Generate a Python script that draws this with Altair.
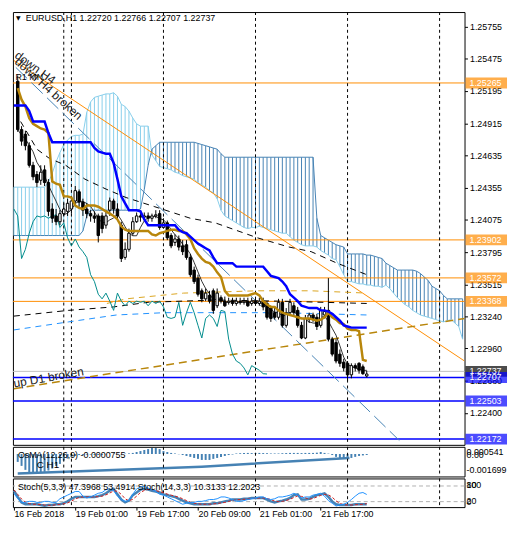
import altair as alt
import pandas as pd

# ---------------- price bars (EURUSD H1), bar index 1..92 ----------------
bar_index = list(range(1, 93))
opens = [1.2528, 1.2486, 1.2482, 1.2472, 1.2455, 1.2447, 1.2442, 1.2451, 1.2440, 1.2417,
         1.2411, 1.2406, 1.2413, 1.2415, 1.2417, 1.2424, 1.2432, 1.2423, 1.2417, 1.2413,
         1.2411, 1.2411, 1.2411, 1.2403, 1.2416, 1.2424, 1.2417, 1.2403, 1.2375, 1.2382,
         1.2396, 1.2406, 1.2411, 1.2410, 1.2411, 1.2409, 1.2411, 1.2413, 1.2401, 1.2405,
         1.2394, 1.2388, 1.2391, 1.2385, 1.2386, 1.2375, 1.2364, 1.2357, 1.2346, 1.2339,
         1.2342, 1.2346, 1.2333, 1.2340, 1.2337, 1.2336, 1.2337, 1.2335, 1.2337, 1.2336,
         1.2337, 1.2335, 1.2337, 1.2335, 1.2337, 1.2335, 1.2331, 1.2327, 1.2323, 1.2336,
         1.2316, 1.2327, 1.2333, 1.2329, 1.2316, 1.2305, 1.2321, 1.2325, 1.2323, 1.2316,
         1.2325, 1.2329, 1.2304, 1.2301, 1.2291, 1.2284, 1.2283, 1.2273, 1.2281, 1.2283,
         1.2280, 1.22720]
highs = [1.2533, 1.2489, 1.2485, 1.2475, 1.2458, 1.2450, 1.2455, 1.2455, 1.2443, 1.2422,
         1.2417, 1.2416, 1.2422, 1.2426, 1.2428, 1.2437, 1.2434, 1.2426, 1.2422, 1.2416,
         1.2415, 1.2413, 1.2414, 1.2416, 1.2427, 1.2426, 1.2422, 1.2406, 1.2388, 1.2400,
         1.2410, 1.2414, 1.2415, 1.2414, 1.2414, 1.2413, 1.2416, 1.2416, 1.2409, 1.2407,
         1.2396, 1.2395, 1.2394, 1.2390, 1.2390, 1.2378, 1.2367, 1.2360, 1.2348, 1.2348,
         1.2346, 1.2348, 1.2348, 1.2342, 1.2341, 1.2340, 1.2340, 1.2340, 1.2340, 1.2340,
         1.2340, 1.2340, 1.2340, 1.2340, 1.2340, 1.2337, 1.2333, 1.2331, 1.2339, 1.2339,
         1.2331, 1.2339, 1.2336, 1.2332, 1.2319, 1.2325, 1.2327, 1.2327, 1.2326, 1.2332,
         1.2332, 1.2357, 1.2306, 1.2304, 1.2295, 1.2287, 1.2285, 1.2283, 1.2283, 1.2284,
         1.2282, 1.22766]
lows = [1.2484, 1.2472, 1.2468, 1.2453, 1.2442, 1.2436, 1.2438, 1.2437, 1.2411, 1.2405,
        1.2403, 1.2403, 1.2411, 1.2411, 1.2413, 1.2422, 1.2419, 1.2411, 1.2409, 1.2406,
        1.2405, 1.2388, 1.2396, 1.2400, 1.2411, 1.2413, 1.2408, 1.2371, 1.2373, 1.2380,
        1.2394, 1.2405, 1.2406, 1.2407, 1.2406, 1.2406, 1.2409, 1.2399, 1.2400, 1.2390,
        1.2383, 1.2385, 1.2381, 1.2377, 1.2373, 1.2358, 1.2352, 1.2341, 1.2336, 1.2337,
        1.2335, 1.2326, 1.2331, 1.2335, 1.2332, 1.2334, 1.2333, 1.2333, 1.2334, 1.2334,
        1.2332, 1.2333, 1.2333, 1.2333, 1.2329, 1.2321, 1.2319, 1.2321, 1.2321, 1.2314,
        1.2314, 1.2325, 1.2325, 1.2314, 1.2304, 1.2304, 1.2318, 1.2319, 1.2312, 1.2314,
        1.2322, 1.2302, 1.2289, 1.2283, 1.2280, 1.2276, 1.2268, 1.2270, 1.2276, 1.2274,
        1.2273, 1.22707]
closes = [1.2486, 1.2476, 1.2472, 1.2455, 1.2445, 1.2440, 1.2449, 1.2440, 1.2415, 1.2409,
          1.2406, 1.2413, 1.2417, 1.2422, 1.2424, 1.2433, 1.2423, 1.2416, 1.2413, 1.2411,
          1.2409, 1.2394, 1.2400, 1.2411, 1.2424, 1.2417, 1.2411, 1.2374, 1.2382, 1.2396,
          1.2406, 1.2411, 1.2410, 1.2411, 1.2409, 1.2411, 1.2412, 1.2401, 1.2405, 1.2392,
          1.2385, 1.2391, 1.2384, 1.2380, 1.2375, 1.2360, 1.2354, 1.2343, 1.2339, 1.2344,
          1.2337, 1.2329, 1.2344, 1.2337, 1.2333, 1.2337, 1.2335, 1.2337, 1.2336, 1.2337,
          1.2333, 1.2337, 1.2335, 1.2337, 1.2332, 1.2323, 1.2322, 1.2323, 1.2336, 1.2316,
          1.2327, 1.2336, 1.2327, 1.2316, 1.2305, 1.2322, 1.2325, 1.2322, 1.2315, 1.2329,
          1.2328, 1.2304, 1.2291, 1.2285, 1.2283, 1.2279, 1.2273, 1.2281, 1.2279, 1.2277,
          1.2274, 1.22737]

# ---------------- Ichimoku ----------------
kijun_index = list(range(0, 93))
kijun = [1.2507, 1.2507, 1.2507, 1.2507, 1.2502, 1.2493, 1.2493, 1.2493, 1.2493, 1.2483,
         1.2475, 1.2475, 1.2475, 1.2475, 1.2475, 1.2475, 1.2475, 1.2475, 1.2475, 1.2475,
         1.2475, 1.2470, 1.2467, 1.2466, 1.2465, 1.2465, 1.2457, 1.2443, 1.2428, 1.2422,
         1.2416, 1.2416, 1.2416, 1.2415, 1.2408, 1.2403, 1.2403, 1.2403, 1.2403, 1.2403,
         1.2403, 1.2403, 1.2403, 1.2399, 1.2397, 1.2396, 1.2393, 1.2390, 1.2387, 1.2385,
         1.2383, 1.2381, 1.2375, 1.2370, 1.2370, 1.2370, 1.2370, 1.2370, 1.2367, 1.2367,
         1.2367, 1.2367, 1.2367, 1.2367, 1.2367, 1.2367, 1.2363, 1.2359, 1.2358, 1.2357,
         1.2354, 1.2350, 1.2343, 1.2340, 1.2337, 1.2333, 1.2332, 1.2331, 1.2331, 1.2331,
         1.2329, 1.2329, 1.2328, 1.2326, 1.2323, 1.2320, 1.2316, 1.2315, 1.2314, 1.2314,
         1.2314, 1.2314, 1.2314]
tenkan_index = list(range(1, 93))
tenkan = [1.2522, 1.2512, 1.2506, 1.2496, 1.2491, 1.2489, 1.2487, 1.2486, 1.2483, 1.2441,
          1.2439, 1.2438, 1.2428, 1.2428, 1.2427, 1.2420, 1.2418, 1.2417, 1.2420, 1.2420,
          1.2420, 1.2419, 1.2417, 1.2415, 1.2413, 1.2411, 1.2408, 1.2402, 1.2399, 1.2398,
          1.2398, 1.2398, 1.2398, 1.2398, 1.2398, 1.2395, 1.2394, 1.2396, 1.2397, 1.2398,
          1.2399, 1.2399, 1.2398, 1.2398, 1.2395, 1.2391, 1.2383, 1.2378, 1.2374, 1.2371,
          1.2370, 1.2367, 1.2362, 1.2358, 1.2346, 1.2342, 1.2342, 1.2342, 1.2342, 1.2342,
          1.2342, 1.2343, 1.2344, 1.2342, 1.2337, 1.2334, 1.2332, 1.2332, 1.2329, 1.2327,
          1.2326, 1.2325, 1.2324, 1.2323, 1.2322, 1.2322, 1.2322, 1.2321, 1.2320, 1.2321,
          1.2323, 1.2327, 1.2323, 1.2321, 1.2318, 1.2317, 1.2313, 1.2312, 1.2312, 1.2311,
          1.2286, 1.2285]
cloud_index = list(range(0, 118))
span_a = [1.2436, 1.2436, 1.2436, 1.2436, 1.2436, 1.2436, 1.2436, 1.2436, 1.2436, 1.2440,
          1.2448, 1.2458, 1.2466, 1.2473, 1.2477, 1.2480, 1.2481, 1.2481, 1.2482, 1.2501,
          1.2510, 1.2514, 1.2515, 1.2516, 1.2517, 1.2517, 1.2518, 1.2515, 1.2508, 1.2506,
          1.2502, 1.2496, 1.2491, 1.2489, 1.2489, 1.2489, 1.2464, 1.2459, 1.2454, 1.2453,
          1.2452, 1.2451, 1.2449, 1.2448, 1.2446, 1.2445, 1.2444, 1.2443, 1.2440, 1.2438,
          1.2436, 1.2433, 1.2431, 1.2426, 1.2416, 1.2411, 1.2409, 1.2407, 1.2405, 1.2403,
          1.2401, 1.2400, 1.2401, 1.2401, 1.2402, 1.2401, 1.2400, 1.2399, 1.2398, 1.2397,
          1.2396, 1.2396, 1.2393, 1.2390, 1.2388, 1.2386, 1.2385, 1.2385, 1.2385, 1.2384,
          1.2381, 1.2379, 1.2377, 1.2374, 1.2373, 1.2367, 1.2360, 1.2354, 1.2354, 1.2353,
          1.2352, 1.2352, 1.2351, 1.2351, 1.2350, 1.2350, 1.2349, 1.2351, 1.2348, 1.2344,
          1.2340, 1.2337, 1.2334, 1.2332, 1.2329, 1.2327, 1.2325, 1.2324, 1.2323, 1.2322,
          1.2321, 1.2320, 1.2319, 1.2320, 1.2321, 1.2318, 1.2315, 1.2304]
span_b = [1.2394, 1.2394, 1.2394, 1.2394, 1.2394, 1.2394, 1.2394, 1.2394, 1.2394, 1.2394,
          1.2394, 1.2394, 1.2394, 1.2394, 1.2394, 1.2394, 1.2394, 1.2394, 1.2398, 1.2411,
          1.2416, 1.2416, 1.2416, 1.2416, 1.2416, 1.2416, 1.2416, 1.2416, 1.2416, 1.2416,
          1.2416, 1.2416, 1.2416, 1.2417, 1.2434, 1.2455, 1.2469, 1.2472, 1.2475, 1.2475,
          1.2475, 1.2475, 1.2475, 1.2475, 1.2475, 1.2475, 1.2475, 1.2475, 1.2474, 1.2473,
          1.2472, 1.2471, 1.2470, 1.2469, 1.2465, 1.2462, 1.2462, 1.2462, 1.2462, 1.2462,
          1.2462, 1.2462, 1.2462, 1.2462, 1.2462, 1.2462, 1.2462, 1.2462, 1.2462, 1.2462,
          1.2462, 1.2462, 1.2462, 1.2462, 1.2462, 1.2462, 1.2462, 1.2462, 1.2462, 1.2409,
          1.2394, 1.2392, 1.2390, 1.2388, 1.2386, 1.2385, 1.2384, 1.2378, 1.2378, 1.2378,
          1.2378, 1.2378, 1.2377, 1.2377, 1.2376, 1.2375, 1.2374, 1.2370, 1.2368, 1.2366,
          1.2364, 1.2364, 1.2364, 1.2364, 1.2364, 1.2363, 1.2361, 1.2358, 1.2355, 1.2350,
          1.2348, 1.2346, 1.2342, 1.2339, 1.2339, 1.2339, 1.2339, 1.2339]

# ---------------- drawn objects / other studies (bar index, price) ----------------
down_h4_idx, down_h4_px = [0, 117.5], [1.2546, 1.2285]
up_d1_idx, up_d1_px = [0, 117.5], [1.2261, 1.2322]
channel_idx, channel_px = [0.5, 100.5], [1.2540, 1.2216]
ma_slow_idx = [1.75, 4.25, 6, 9.25, 13.5, 18.5, 24.25, 29.25, 36.75, 46, 52.5, 63.5, 71.75, 77.5, 84.25, 92]
ma_slow_px = [1.2493, 1.2479, 1.2469, 1.2461, 1.2455, 1.2443, 1.2434, 1.2427, 1.2419, 1.2409,
              1.2405, 1.2392, 1.2384, 1.2380, 1.2370, 1.2360]
ma_flat_idx = [0, 14.25, 26, 35, 52.5, 69.25, 92]
ma_flat_px = [1.2324, 1.2329, 1.2332, 1.2336, 1.2338, 1.2337, 1.2335]
ma_blue_idx = [0, 14.25, 26.75, 39.25, 52.5, 69.25, 92]
ma_blue_px = [1.2312, 1.2319, 1.2325, 1.2327, 1.2327, 1.2327, 1.2325]
ma_gold_idx = [24.25, 29.25, 44.25, 63.5, 77.5, 92]
ma_gold_px = [1.2335, 1.2339, 1.2344, 1.2346, 1.2346, 1.2344]

resist_levels = [1.25265, 1.23902, 1.23572, 1.23368]
support_levels = [1.22707, 1.22503, 1.22172]
bid_level = 1.2276
bid_label = 1.22737
price_ticks = [1.25755, 1.25475, 1.25195, 1.24915, 1.24635, 1.24355, 1.24075, 1.23795,
               1.23515, 1.23240, 1.22960, 1.22680, 1.22400, 1.22120]
separators = [13, 15, 39, 63, 87, 111]
time_ticks = [0, 16, 32, 48, 64, 80]
time_labels = ["16 Feb 2018", "19 Feb 01:00", "19 Feb 17:00", "20 Feb 09:00", "21 Feb 01:00", "21 Feb 17:00"]

# ---------------- OsMA(12,26,9), bars 1..92 ----------------
osma = [-0.0006, -0.0009, -0.0012, -0.0014, -0.0015, -0.0015, -0.0014, -0.00135, -0.00125, -0.0011,
        -0.0009, -0.00075, -0.0005, -0.00035, -0.00022, -0.00015, -0.00008, -0.00007, -0.00005, -0.00005,
        -0.00006, -0.00008, -0.00006, -0.00003, 0.00002, 0.00003, 0.00002, -0.00002, 0.00003, 0.00005,
        0.00008, 0.00015, 0.00022, 0.0003, 0.00037, 0.00045, 0.00045, 0.00037, 0.00022, 0.00015,
        0.00008, 0.00004, -0.00002, -0.00008, -0.00015, -0.00022, -0.0003, -0.00037, -0.00045, -0.00045,
        -0.00045, -0.00037, -0.0003, -0.00022, -0.00015, -0.00008, -0.00004, 0.00004, 0.00006, 0.00008,
        0.00008, 0.00007, 0.00008, 0.00008, 0.00007, 0.00006, 0.00004, 0.00004, 0.00004, 0.00006,
        0.00007, 0.00008, 0.00008, 0.00008, 0.00007, 0.00008, 0.00008, 0.00008, 0.0001, 0.00015,
        0.00008, 0.00003, -0.00008, -0.00022, -0.0003, -0.00037, -0.00037, -0.0003, -0.00022, -0.00015,
        -0.00011, -0.0000755]
osma_trend_idx = [1, 49, 87.5]
osma_trend_val = [-0.00148, -0.00096, -0.00030]

# ---------------- Stochastics, bars 0..92 ----------------
stoch_index = list(range(0, 93))
stoch5_main = [52, 31, 17, 17, 21, 21, 17, 17, 21, 21,
               17, 17, 31, 38, 45, 52, 59, 59, 41, 34,
               38, 45, 52, 55, 66, 69, 62, 41, 28, 21,
               24, 48, 69, 76, 79, 72, 66, 59, 48, 45,
               38, 31, 24, 17, 10, 14, 17, 17, 21, 21,
               24, 28, 28, 31, 38, 38, 34, 28, 21, 21,
               24, 28, 31, 34, 38, 38, 31, 28, 31, 38,
               38, 41, 45, 52, 45, 34, 38, 38, 45, 48,
               52, 41, 24, 14, 3, 7, 10, 17, 28, 41,
               52, 55, 47.3968]
stoch14_main = [62, 38, 17, 10, 10, 10, 10, 7, 4, 7,
                7, 10, 10, 14, 21, 31, 38, 38, 38, 38,
                38, 38, 41, 45, 52, 62, 69, 48, 28, 17,
                24, 45, 55, 66, 69, 66, 62, 59, 55, 48,
                45, 41, 38, 31, 24, 17, 14, 10, 10, 10,
                10, 10, 14, 14, 17, 21, 24, 28, 28, 28,
                31, 31, 34, 34, 34, 34, 28, 21, 17, 21,
                24, 28, 34, 45, 48, 28, 28, 31, 38, 45,
                48, 52, 38, 21, 10, 7, 7, 7, 7, 10,
                10, 10, 10.3133]
stoch14_signal = [65, 48, 30, 18, 12, 10, 10, 9, 7, 6,
                  6, 8, 9, 12, 15, 22, 30, 36, 38, 38,
                  38, 38, 39, 41, 46, 53, 61, 60, 48, 31,
                  23, 29, 41, 55, 63, 67, 66, 62, 59, 54,
                  49, 45, 41, 37, 31, 24, 18, 14, 11, 10,
                  10, 10, 11, 13, 15, 17, 21, 24, 27, 28,
                  29, 30, 32, 33, 34, 34, 32, 28, 22, 20,
                  21, 24, 29, 36, 42, 40, 35, 29, 32, 38,
                  44, 48, 46, 37, 23, 13, 8, 7, 7, 8,
                  9, 10, 12.2023]

# ---------------- styling ----------------
FONT = "Liberation Sans"
ORANGE = "#FF8C00"
BLUE = "#0000FF"
LIGHT = "#87CEEB"
STEEL = "#4682B4"
GOLD = "#B8860B"
GOLDEN = "#DAA520"
TEAL = "#008B8B"
DODGER = "#1E90FF"
W, H_MAIN, H_OSMA, H_STOCH = 457, 438, 30, 29

XS = alt.Scale(domain=[-0.25, 117.5], nice=False, zero=False, padding=0)
YS = alt.Scale(domain=[1.22122, 1.25881], nice=False, zero=False, padding=0)
YAX = alt.Axis(orient="right", values=price_ticks, format=".5f", title=None, grid=False,
               domain=False, tickSize=3, tickColor="black", labelColor="black",
               labelFont=FONT, labelFontSize=9, labelPadding=2, labelFlush=False,
               labelOverlap=False)


def X(f):
    return alt.X(f"{f}:Q", scale=XS, axis=None)


def Y(f):
    return alt.Y(f"{f}:Q", scale=YS, axis=YAX)


def poly(idx, px, color, width=1, dash=None):
    df = pd.DataFrame({"i": idx, "p": px})
    kw = dict(color=color, strokeWidth=width, clip=True)
    if dash:
        kw["strokeDash"] = dash
    return alt.Chart(df).mark_line(**kw).encode(x=X("i"), y=Y("p"))


# ---------------- main panel ----------------
cloud_df = pd.DataFrame({"i": cloud_index, "a": span_a, "b": span_b})
cdf = pd.DataFrame({"i": bar_index, "open": opens, "high": highs, "low": lows, "close": closes})
chikou_df = pd.DataFrame({"i": [b - 26 for b in bar_index[25:]], "p": closes[25:]})

hatch = alt.Chart(cloud_df).mark_rule(strokeWidth=1).encode(
    x=X("i"), y=Y("a"), y2=alt.Y2("b"),
    color=alt.condition("datum.a > datum.b", alt.value(LIGHT), alt.value(STEEL)))
a_line = alt.Chart(cloud_df).mark_line(color=LIGHT, strokeWidth=1).encode(x=X("i"), y=Y("a"))
b_line = alt.Chart(cloud_df).mark_line(color=STEEL, strokeWidth=1).encode(x=X("i"), y=Y("b"))

res_rules = alt.Chart(pd.DataFrame({"p": resist_levels})).mark_rule(
    color=ORANGE, strokeWidth=1).encode(y=Y("p"))
sup_rules = alt.Chart(pd.DataFrame({"p": support_levels})).mark_rule(
    color=BLUE, strokeWidth=1.5).encode(y=Y("p"))
bid_rule = alt.Chart(pd.DataFrame({"p": [bid_level]})).mark_rule(
    color="#C0C0C0", strokeWidth=1).encode(y=Y("p"))

seps_main = alt.Chart(pd.DataFrame({"i": separators})).mark_rule(
    color="black", strokeWidth=1, strokeDash=[3, 3]).encode(x=X("i"))

down_line = poly(down_h4_idx, down_h4_px, ORANGE, 1)
up_line = poly(up_d1_idx, up_d1_px, GOLD, 1.5, [8, 5])
chan_line = poly(channel_idx, channel_px, STEEL, 1, [16, 6])
ma_slow = poly(ma_slow_idx, ma_slow_px, "black", 1, [6, 5])
ma_flat = poly(ma_flat_idx, ma_flat_px, "black", 1, [6, 5])
ma_blue = poly(ma_blue_idx, ma_blue_px, DODGER, 1, [6, 5])
ma_gold = poly(ma_gold_idx, ma_gold_px, GOLDEN, 1, [6, 5])

chikou = alt.Chart(chikou_df).mark_line(color=TEAL, strokeWidth=1).encode(x=X("i"), y=Y("p"))
fast_ma = alt.Chart(cdf).transform_window(
    ma="mean(close)", frame=[-4, 0], sort=[alt.SortField("i")]
).mark_line(color="black", strokeWidth=0.8).encode(x=X("i"), y=Y("ma"))

wick = alt.Chart(cdf).mark_rule(color="black", strokeWidth=1).encode(
    x=X("i"), y=Y("low"), y2=alt.Y2("high"))
body = alt.Chart(cdf).mark_bar(size=2.5, stroke="black", strokeWidth=1).encode(
    x=X("i"), y=Y("open"), y2=alt.Y2("close"),
    fill=alt.condition("datum.close > datum.open", alt.value("white"), alt.value("black")))

tenkan_line = alt.Chart(pd.DataFrame({"i": tenkan_index, "p": tenkan})).mark_line(
    color=GOLD, strokeWidth=2.5).encode(x=X("i"), y=Y("p"))
kijun_line = alt.Chart(pd.DataFrame({"i": kijun_index, "p": kijun})).mark_line(
    color=BLUE, strokeWidth=2.5).encode(x=X("i"), y=Y("p"))


def note(text, i, p, angle=0, size=12, color="#202020"):
    df = pd.DataFrame({"i": [i], "p": [p], "t": [text]})
    return alt.Chart(df).mark_text(
        align="left", baseline="alphabetic", angle=angle, font=FONT, fontSize=size,
        color=color).encode(x=X("i"), y=Y("p"), text="t:N")


txt_down = note("down H4", 0.0, 1.2549, angle=36)
txt_down_b = note("down H4 broken", 0.0, 1.2544, angle=42)
txt_r1 = note("R1 MN", 0.4, 1.2529, size=9, color="black")
txt_up = note("up D1 broken", 0.1, 1.2262, angle=350)

header = alt.Chart(pd.DataFrame({"t": ["EURUSD,H1  1.22720 1.22766 1.22707 1.22737"]})).mark_text(
    align="left", baseline="middle", font=FONT, fontSize=9, color="black"
).encode(x=alt.value(13), y=alt.value(6), text="t:N")
header_tri = alt.Chart(pd.DataFrame({"t": ["\u25BC"]})).mark_text(
    align="left", baseline="middle", font="DejaVu Sans", fontSize=6, color="black"
).encode(x=alt.value(3), y=alt.value(6), text="t:N")

box_df = pd.DataFrame({
    "p": [bid_level] + resist_levels + support_levels,
    "t": [f"{bid_label:.5f}"] + [f"{v:.5f}" for v in resist_levels] + [f"{v:.5f}" for v in support_levels],
    "c": ["black"] + [ORANGE] * len(resist_levels) + [BLUE] * len(support_levels),
    "o": list(range(1 + len(resist_levels) + len(support_levels))),
})
boxes = alt.Chart(box_df).mark_tick(orient="horizontal", thickness=11, size=42).encode(
    y=Y("p"), x=alt.value(W + 22), color=alt.Color("c:N", scale=None), order="o:Q")
box_txt = alt.Chart(box_df).mark_text(
    align="left", baseline="middle", font=FONT, fontSize=9, color="white"
).encode(y=Y("p"), x=alt.value(W + 5), text="t:N", order="o:Q")

main = alt.layer(
    hatch, a_line, b_line, res_rules, sup_rules, bid_rule, seps_main,
    down_line, up_line, chan_line, ma_slow, ma_flat, ma_blue, ma_gold,
    chikou, fast_ma, wick, body, tenkan_line, kijun_line,
    txt_down, txt_down_b, txt_r1, txt_up, header_tri, header, boxes, box_txt
).properties(width=W, height=H_MAIN)

# ---------------- OsMA panel ----------------
OS = alt.Scale(domain=[-0.001699, 0.000541], nice=False, zero=False, padding=0)
odf = pd.DataFrame({"i": bar_index, "v": osma})
os_bars = alt.Chart(odf).mark_bar(size=2, color=STEEL).encode(
    x=X("i"), y=alt.Y("v:Q", scale=OS, axis=None), y2=alt.datum(0))
os_trend = alt.Chart(pd.DataFrame({"i": osma_trend_idx, "v": osma_trend_val})).mark_line(
    color=STEEL, strokeWidth=2.5).encode(x=X("i"), y=alt.Y("v:Q", scale=OS, axis=None))
seps_os = alt.Chart(pd.DataFrame({"i": separators})).mark_rule(
    color="black", strokeWidth=1, strokeDash=[3, 3]).encode(x=X("i"))


def ptext(t, x, y, size=9, color="black", align="left"):
    return alt.Chart(pd.DataFrame({"t": [t]})).mark_text(
        align=align, baseline="middle", font=FONT, fontSize=size, color=color
    ).encode(x=alt.value(x), y=alt.value(y), text="t:N")


osma_panel = alt.layer(
    os_bars, os_trend, seps_os,
    ptext("OsMA(12,26,9) -0.0000755", 5, 8),
    ptext("C H1", 24, 18, size=10),
    ptext("0.000541", W + 2, 5),
    ptext("0.00", W + 2, 8),
    ptext("-0.001699", W + 2, 23),
).properties(width=W, height=H_OSMA)

# ---------------- Stochastic panel ----------------
SS = alt.Scale(domain=[-1, 109], nice=False, zero=False, padding=0)
label_expr = "".join(f"datum.value == {t} ? '{l}' : " for t, l in zip(time_ticks, time_labels)) + "''"
XAX = alt.Axis(values=time_ticks, labelExpr=label_expr, labelAlign="left", labelFlush=False,
               labelOverlap=False, tickSize=3, tickColor="black", domain=False, grid=False,
               labelFont=FONT, labelFontSize=9, labelColor="black", labelPadding=0, title=None)


def XT(f):
    return alt.X(f"{f}:Q", scale=XS, axis=XAX)


sdf = pd.DataFrame({"i": stoch_index, "s5": stoch5_main, "s14": stoch14_main, "sig": stoch14_signal})
levels = alt.Chart(pd.DataFrame({"v": [20, 80]})).mark_rule(
    color="#B0B0B0", strokeWidth=1, strokeDash=[4, 3]).encode(y=alt.Y("v:Q", scale=SS, axis=None))
seps_st = alt.Chart(pd.DataFrame({"i": separators})).mark_rule(
    color="black", strokeWidth=1, strokeDash=[3, 3]).encode(x=XT("i"))
s14_line = alt.Chart(sdf).mark_line(color=STEEL, strokeWidth=2.5).encode(
    x=XT("i"), y=alt.Y("s14:Q", scale=SS, axis=None))
sig_line = alt.Chart(sdf).mark_line(color="#D02020", strokeWidth=1, strokeDash=[3, 2]).encode(
    x=XT("i"), y=alt.Y("sig:Q", scale=SS, axis=None))
s5_line = alt.Chart(sdf).mark_line(color=DODGER, strokeWidth=1).encode(
    x=XT("i"), y=alt.Y("s5:Q", scale=SS, axis=None))

stoch_panel = alt.layer(
    levels, seps_st, s14_line, sig_line, s5_line,
    ptext("Stoch(5,3,3) 47.3968 53.4914  Stoch(14,3,3) 10.3133 12.2023", 5, 9),
    ptext("100", W + 2, 7), ptext("80", W + 2, 7),
    ptext("20", W + 2, 23), ptext("0", W + 2, 24),
).properties(width=W, height=H_STOCH)

chart = alt.vconcat(main, osma_panel, stoch_panel, spacing=2, bounds="flush").properties(
    padding=0, background="white"
).configure_view(stroke="black", strokeWidth=1)

chart.save("out.html", embed_options={"renderer": "svg", "actions": False})
